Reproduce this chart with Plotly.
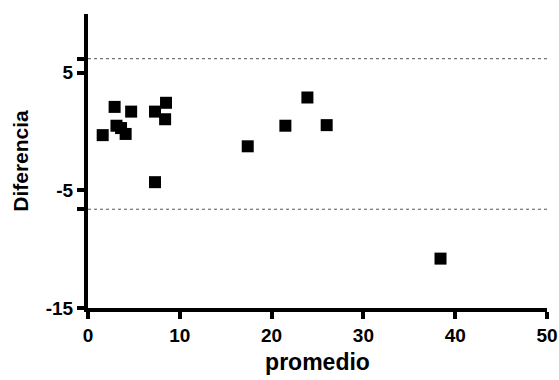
import plotly.graph_objects as go

# Bland-Altman data (promedio vs diferencia)
promedio = [1.6, 2.9, 3.1, 3.6, 4.1, 4.7, 7.3, 7.3, 8.4, 8.5, 17.4, 21.5, 23.9, 26.0, 38.4]
diferencia = [-0.3, 2.1, 0.5, 0.3, -0.2, 1.7, 1.7, -4.3, 1.05, 2.45, -1.25, 0.5, 2.9, 0.55, -10.8]

# limits of agreement
limits = [6.2, -6.6]

x_ticks = [0, 10, 20, 30, 40, 50]
y_ticks = [-15, -5, 5]

FONT = "Liberation Sans, Arial, sans-serif"

fig = go.Figure()
fig.add_trace(go.Scatter(
    x=promedio, y=diferencia, mode="markers",
    marker=dict(symbol="square", size=12, color="black", line=dict(width=0)),
    showlegend=False, cliponaxis=False,
))
for lim in limits:
    fig.add_hline(y=lim, line=dict(color="#555555", width=1, dash="dot"))

yvals = y_ticks + limits
ytext = ["<b>%d</b>" % v for v in y_ticks] + ["" for _ in limits]

fig.update_layout(
    width=559, height=380,
    margin=dict(l=88, r=12, t=14, b=72),
    plot_bgcolor="white", paper_bgcolor="white",
    font=dict(family=FONT, color="black"),
    xaxis=dict(
        range=[0, 50], tickvals=x_ticks, ticktext=["<b>%d</b>" % v for v in x_ticks],
        showgrid=False, zeroline=False, automargin=False,
        showline=True, linewidth=4, linecolor="black",
        ticks="outside", ticklen=7, tickwidth=4, tickcolor="black",
        tickfont=dict(size=19),
        title=dict(text="<b>promedio</b>", font=dict(size=23), standoff=10),
    ),
    yaxis=dict(
        range=[-15, 10], tickvals=yvals, ticktext=ytext,
        showgrid=False, zeroline=False, automargin=False,
        showline=True, linewidth=4, linecolor="black",
        ticks="outside", ticklen=7, tickwidth=4, tickcolor="black",
        tickfont=dict(size=19),
        title=dict(text="<b>Diferencia</b>", font=dict(size=21), standoff=12),
    ),
)

fig.write_html("out.html", config={"displayModeBar": False},
               post_script="document.body.style.margin='0';")
